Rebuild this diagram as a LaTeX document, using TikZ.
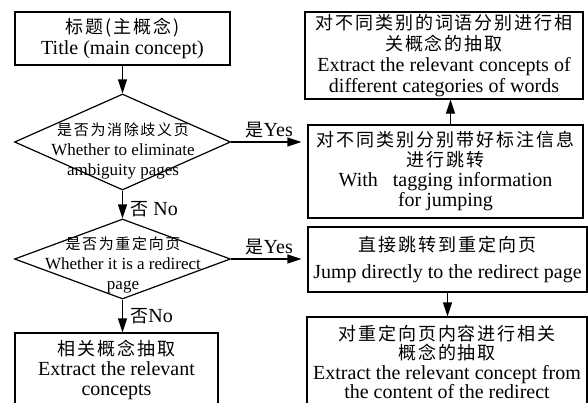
\documentclass[tikz,border=0pt]{standalone}
\usepackage{fontspec}
\setmainfont{Liberation Serif}
\newfontfamily\cjk[LetterSpace=11]{Noto Sans CJK SC}
\newcommand{\zh}[1]{{\cjk\fontsize{18}{21}\selectfont #1}}
\newcommand{\zhs}[1]{{\cjk\fontsize{15}{20}\selectfont #1}}
\usetikzlibrary{arrows.meta,shapes.geometric}

\tikzset{
box/.style={draw,line width=1.2pt,inner sep=0pt,align=center},
decision/.style={draw,diamond,line width=1.2pt,inner sep=0pt},
dtext/.style={inner sep=0pt,align=center,font=\fontsize{17}{20}\selectfont},
arr/.style={line width=1.2pt,-{Triangle[length=14pt,width=9pt]}}
}

\begin{document}
\begin{tikzpicture}[x=1pt,y=-1pt,font=\fontsize{20}{21}\selectfont]

\useasboundingbox (0,0) rectangle (588,402);

\node[box,minimum width=215,minimum height=53] (title) at (122.5,38.5) {\zh{标题(主概念)}\\Title (main concept)};

\node[decision,minimum width=216,minimum height=96] (isamb) at (122.5,142) {};
\node[dtext] (isambt) at (123,151) {\zhs{是否为消除歧义页}\\Whether to eliminate\\ambiguity pages};

\node[decision,minimum width=216,minimum height=80] (isred) at (122.5,259) {};
\node[dtext] (isredt) at (123,265) {\zhs{是否为重定向页}\\Whether it is a redirect\\page};

\node[box,minimum width=203,minimum height=74,font=\fontsize{20}{20}\selectfont] (rel) at (116.5,370) {\zh{相关概念抽取}\\Extract the relevant\\concepts};

\node[box,minimum width=278,minimum height=87] (cat) at (444,55.5) {\zh{对不同类别的词语分别进行相}\\\zh{关概念的抽取}\\Extract the relevant concepts of\\different categories of words};
\node[box,minimum width=275,minimum height=93,font=\fontsize{20}{20}\selectfont] (tag) at (445.5,171.5) {\zh{对不同类别分别带好标注信息}\\\zh{进行跳转}\\With~~ tagging information\\for jumping};
\node[box,minimum width=279,minimum height=65] (jump) at (447.5,259.5) {\zh{直接跳转到重定向页}\\[6pt]Jump directly to the redirect page};
\node[box,minimum width=280,minimum height=90,font=\fontsize{20}{19.5}\selectfont] (redc) at (447,362) {\zh{对重定向页内容进行相关}\\\zh{概念的抽取}\\Extract the relevant concept from\\the content of the redirect};

\draw[arr] (title.south) -- (isamb.north);
\draw[arr] (isamb.south) -- node[right,pos=0.65,xshift=4pt] {\zh{否} No} (isred.north);
\draw[arr] (isred.south) -- node[right,xshift=4pt] {\zh{否}No} (isred.south |- rel.north);
\draw[arr,shorten >=6pt] (isamb.east) -- node[above] {\zh{是}Yes} (isamb.east -| tag.west);
\draw[arr,shorten >=6pt] (isred.east) -- node[above] {\zh{是}Yes} (isred.east -| jump.west);
\draw[arr] ([xshift=5pt]tag.north) -- ([xshift=5pt]tag.north |- cat.south);
\draw[arr] (jump.south) -- (jump.south |- redc.north);
\end{tikzpicture}
\end{document}
